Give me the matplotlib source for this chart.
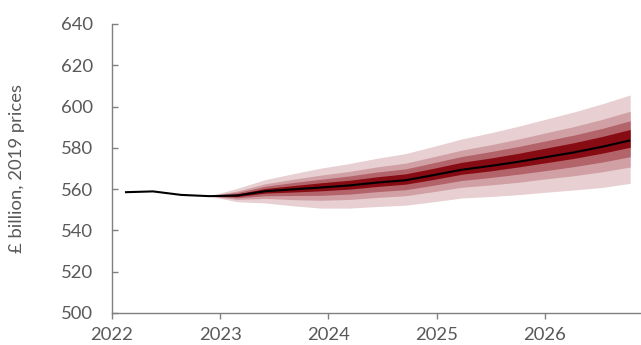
import numpy as np
import matplotlib
matplotlib.use('Agg')
import matplotlib.pyplot as plt

plt.rcParams['font.family'] = ['Lato', 'DejaVu Sans']

# ── Data (quarterly, 2022 Q1 onwards) ─────────────────────────────
quarter_pos = np.linspace(2022.12, 2026.79, 19)

central = [558.5, 558.9, 557.2, 556.6, 556.9, 559.0, 559.9, 560.8, 561.8, 563.2,
           564.3, 566.8, 569.4, 571.2, 573.2, 575.5, 577.8, 580.5, 583.6]

# fan starts at the 4th quarter (index 3)
fan_start = 3
upper_90 = [556.6, 560.4, 564.6, 567.5, 570.2, 572.4, 575.0, 577.2, 580.7, 584.3,
            587.2, 590.4, 593.9, 597.4, 601.3, 605.6]
upper_70 = [556.6, 559.1, 562.6, 564.8, 566.8, 568.6, 570.8, 572.6, 575.7, 578.9,
            581.4, 584.2, 587.3, 590.3, 593.8, 597.7]
upper_50 = [556.6, 558.4, 561.4, 563.2, 564.8, 566.4, 568.3, 569.8, 572.8, 575.8,
            578.1, 580.6, 583.4, 586.2, 589.4, 593.1]
upper_30 = [556.6, 557.7, 560.3, 561.7, 563.1, 564.3, 566.0, 567.4, 570.1, 573.0,
            575.0, 577.3, 579.9, 582.5, 585.5, 588.9]
lower_30 = [556.6, 556.4, 558.1, 558.6, 559.2, 560.0, 561.3, 562.4, 564.7, 567.2,
            568.8, 570.7, 572.8, 574.9, 577.4, 580.3]
lower_50 = [556.6, 555.8, 556.8, 556.9, 557.0, 557.6, 558.8, 559.7, 561.9, 564.2,
            565.6, 567.2, 569.0, 570.9, 573.1, 575.7]
lower_70 = [556.6, 555.0, 555.5, 554.9, 554.6, 555.0, 556.0, 556.8, 558.8, 560.9,
            562.0, 563.3, 565.0, 566.5, 568.4, 570.7]
lower_90 = [556.6, 553.9, 553.3, 551.9, 550.8, 550.8, 551.6, 552.2, 553.9, 555.7,
            556.4, 557.3, 558.5, 559.6, 560.8, 562.8]

years = [2022, 2023, 2024, 2025, 2026]
y_ticks = [500, 520, 540, 560, 580, 600, 620, 640]

# ── Colours ───────────────────────────────────────────────────────
band_cols = ['#e7cfd2', '#d0a0a4', '#b3636a', '#870b12']
grey = '#808080'
txt = '#595959'

fig = plt.figure(figsize=(6.41, 3.45), dpi=100)
ax = fig.add_axes([0.1747, 0.0928, 0.8253, 0.8377])

xf = quarter_pos[fan_start:]
bands = [(lower_90, upper_90), (lower_70, upper_70),
         (lower_50, upper_50), (lower_30, upper_30)]
for (lo, hi), col in zip(bands, band_cols):
    ax.fill_between(xf, lo, hi, color=col, linewidth=0, zorder=2)

ax.plot(quarter_pos, central, color='black', linewidth=1.5, zorder=3,
        solid_capstyle='butt')

ax.set_xlim(2022, 2026.89)
ax.set_ylim(500, 640)
ax.set_xticks(years)
ax.set_xticklabels([str(y) for y in years])
ax.set_yticks(y_ticks)

for s in ['top', 'right']:
    ax.spines[s].set_visible(False)
for s in ['left', 'bottom']:
    ax.spines[s].set_color(grey)
    ax.spines[s].set_linewidth(1.0)

ax.tick_params(axis='both', colors=grey, labelcolor=txt, labelsize=13.3,
               length=4.3, width=1.0)
ax.tick_params(axis='x', direction='out', pad=5.5)
ax.tick_params(axis='y', direction='in', pad=13.5)

ax.set_ylabel('£ billion, 2019 prices', fontsize=13.3, color=txt, labelpad=26)

plt.savefig('out.png', dpi=100)
plt.close()
